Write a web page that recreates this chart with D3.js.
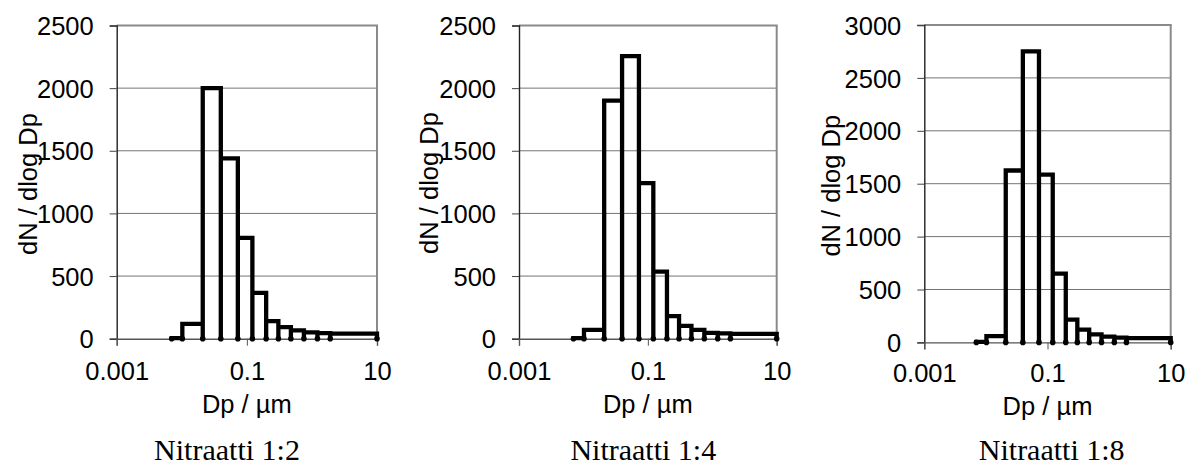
<!DOCTYPE html>
<html>
<head>
<meta charset="utf-8">
<script src="https://cdn.jsdelivr.net/npm/d3@7"></script>
<style>
  html, body { margin: 0; padding: 0; background: #fff; }
  svg { display: block; }
</style>
</head>
<body>
<svg id="chart" width="1202" height="465"></svg>
<script>
// ---- data ----
const binEdges = [0.007, 0.0102, 0.021, 0.0398, 0.0727, 0.1216, 0.198, 0.305, 0.475, 0.753, 1.215, 1.912, 10];
const valuesNitraatti12 = [5, 118, 2000, 1440, 805, 365, 140, 92, 66, 51, 45, 40, 32];
const valuesNitraatti14 = [5, 70, 1900, 2255, 1242, 535, 180, 102, 70, 47, 42, 38, 32];
const valuesNitraatti18 = [5, 60, 1625, 2750, 1585, 650, 215, 120, 76, 54, 45, 40, 32];
const yTicks2500 = [0, 500, 1000, 1500, 2000, 2500];
const yTicks3000 = [0, 500, 1000, 1500, 2000, 2500, 3000];
const xTicks = [0.001, 0.1, 10];
const xTickLabels = ["0.001", "0.1", "10"];
const titles = ["Nitraatti 1:2", "Nitraatti 1:4", "Nitraatti 1:8"];
const xAxisTitle = "Dp / µm";
const yAxisTitle = "dN / dlog Dp";

// ---- layout ----
const panels = [
  { values: valuesNitraatti12, yTicks: yTicks2500, yMax: 2500, left: 116.7, right: 377, top: 25.5, bottom: 338.7, titleX: 227, yTitleX: 27.5, yTitleY: 184 },
  { values: valuesNitraatti14, yTicks: yTicks2500, yMax: 2500, left: 519, right: 776.7, top: 25.5, bottom: 338.7, titleX: 643.3, yTitleX: 429, yTitleY: 183 },
  { values: valuesNitraatti18, yTicks: yTicks3000, yMax: 3000, left: 924.3, right: 1170.7, top: 25, bottom: 342.4, titleX: 1051.7, yTitleX: 831, yTitleY: 185.7 }
];

const svg = d3.select("#chart");
svg.append("rect").attr("width", 1202).attr("height", 465).attr("fill", "#fff");

const sansFont = "'Liberation Sans', Arial, sans-serif";
const serifFont = "'Liberation Serif', 'Times New Roman', serif";
const sansSize = 25.5;

panels.forEach((p, idx) => {
  const x = d3.scaleLog().domain([0.001, 10]).range([p.left, p.right]);
  const y = d3.scaleLinear().domain([0, p.yMax]).range([p.bottom, p.top]);
  const g = svg.append("g");

  // gridlines (excluding 0 and top)
  g.selectAll("line.grid").data(p.yTicks.filter(t => t > 0 && t < p.yMax)).enter()
    .append("line")
    .attr("x1", p.left).attr("x2", p.right)
    .attr("y1", d => y(d)).attr("y2", d => y(d))
    .attr("stroke", "#747474").attr("stroke-width", 1);

  // plot border top & right (gray)
  g.append("line").attr("x1", p.left).attr("x2", p.right + 1)
    .attr("y1", y(p.yMax)).attr("y2", y(p.yMax))
    .attr("stroke", "#8a8a8a").attr("stroke-width", 2);
  g.append("line").attr("x1", p.right).attr("x2", p.right)
    .attr("y1", y(p.yMax)).attr("y2", p.bottom)
    .attr("stroke", "#8a8a8a").attr("stroke-width", 2);

  // y axis
  const yAxis = d3.axisLeft(y).tickValues(p.yTicks).tickSize(7).tickFormat(d3.format("d"));
  const ya = g.append("g").attr("transform", `translate(${p.left},0)`).call(yAxis);
  ya.select(".domain").attr("stroke", "#222").attr("stroke-width", 1.4);
  ya.selectAll(".tick line").attr("stroke", "#444").attr("stroke-width", 1);
  ya.selectAll(".tick text")
    .attr("x", -23)
    .attr("dy", "0.36em")
    .attr("fill", "#000")
    .style("font-family", sansFont).style("font-size", sansSize + "px");

  // x axis
  const xAxis = d3.axisBottom(x).tickValues(xTicks).tickSize(7).tickFormat((d, i) => xTickLabels[i]);
  const xa = g.append("g").attr("transform", `translate(0,${p.bottom})`).call(xAxis);
  xa.select(".domain").attr("stroke", "#555").attr("stroke-width", 1.4);
  xa.selectAll(".tick line").attr("stroke", "#555").attr("stroke-width", 1);
  xa.selectAll(".tick text")
    .attr("y", 380.5 - p.bottom + (idx === 2 ? 2 : 0))
    .attr("dy", 0)
    .attr("fill", "#000")
    .style("font-family", sansFont).style("font-size", sansSize + "px");

  // step histogram outline
  const pts = [];
  p.values.forEach((v, i) => {
    pts.push([binEdges[i], 0], [binEdges[i], v], [binEdges[i + 1], v], [binEdges[i + 1], 0]);
  });
  const line = d3.line().x(d => x(d[0])).y(d => y(d[1]));
  g.append("path").attr("d", line(pts))
    .attr("fill", "none").attr("stroke", "#000")
    .attr("stroke-width", 4.3).attr("stroke-linejoin", "miter");

  // baseline dots at bin edges
  g.selectAll("circle.edge").data(binEdges).enter().append("circle")
    .attr("cx", d => x(d)).attr("cy", y(0)).attr("r", 2.8).attr("fill", "#000");

  // x axis title
  svg.append("text")
    .attr("text-anchor", "middle")
    .attr("x", (p.left + p.right) / 2)
    .attr("y", 413 + (idx === 2 ? 2 : 0))
    .style("font-family", sansFont).style("font-size", sansSize + "px")
    .text(xAxisTitle);

  // y axis title
  svg.append("text")
    .attr("text-anchor", "middle")
    .attr("dy", "0.36em")
    .attr("transform", `translate(${p.yTitleX},${p.yTitleY}) rotate(-90)`)
    .style("font-family", sansFont).style("font-size", sansSize + "px")
    .text(yAxisTitle);

  // panel caption
  svg.append("text")
    .attr("text-anchor", "middle")
    .attr("x", p.titleX)
    .attr("y", 459.5)
    .style("font-family", serifFont).style("font-size", "30px")
    .text(titles[idx]);
});
</script>
</body>
</html>
